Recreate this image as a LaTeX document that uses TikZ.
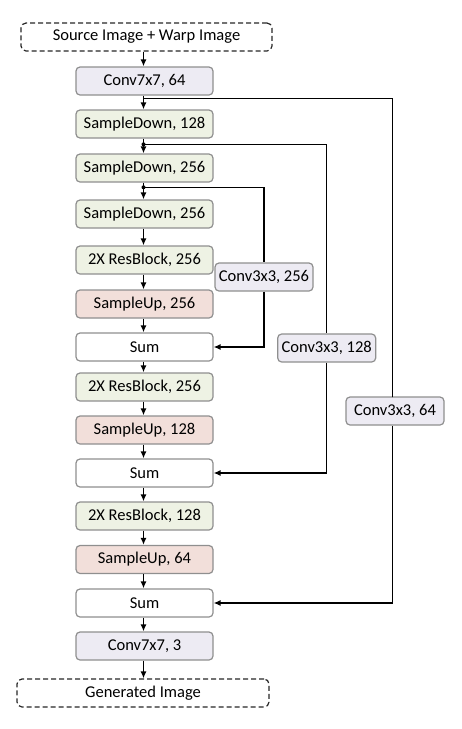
\documentclass[tikz,border=0pt]{standalone}
\usepackage{fontspec}
\setmainfont{Carlito}
\usetikzlibrary{arrows.meta}
\definecolor{lav}{HTML}{EDEBF3}
\definecolor{grn}{HTML}{EEF2E4}
\definecolor{pnk}{HTML}{F2DFDA}
\definecolor{bord}{HTML}{8F8F8F}
\begin{document}
\begin{tikzpicture}[x=1pt,y=-1pt,
  every node/.style={font=\fontsize{16.5}{20}\selectfont, text=black},
  blk/.style={draw=bord, line width=1.2pt, rounded corners=4pt, minimum width=137pt, minimum height=28pt, inner sep=0pt},
  lavbox/.style={blk, fill=lav},
  grnbox/.style={blk, fill=grn},
  pnkbox/.style={blk, fill=pnk},
  sumbox/.style={blk, fill=white},
  sidebox/.style={draw=bord, line width=1.2pt, rounded corners=4pt, fill=lav, minimum width=98pt, minimum height=28pt, inner sep=0pt},
  iobox/.style={draw=black!85, dash pattern=on 5pt off 3pt, line width=1.2pt, rounded corners=5pt, minimum width=251pt, minimum height=28pt, inner sep=0pt},
  arr/.style={-{Latex[length=7pt,width=6pt]}, line width=1.3pt, black},
  ln/.style={line width=1.3pt, black},
  dot/.style={circle, fill=black, inner sep=0pt, minimum size=4pt}
]
\useasboundingbox (0,0) rectangle (462,729);
\node[iobox] (src) at (146.5,37) {Source Image + Warp Image};
\node[lavbox] (c7a) at (144.5,81) {Conv7x7, 64};
\node[grnbox] (sd1) at (144.5,124) {SampleDown, 128};
\node[grnbox] (sd2) at (144.5,168) {SampleDown, 256};
\node[grnbox] (sd3) at (144.5,214) {SampleDown, 256};
\node[grnbox] (rb1) at (144.5,260) {2X ResBlock, 256};
\node[pnkbox] (su1) at (144.5,304) {SampleUp, 256};
\node[sumbox] (s1) at (144.5,347) {Sum};
\node[grnbox] (rb2) at (144.5,387) {2X ResBlock, 256};
\node[pnkbox] (su2) at (144.5,430) {SampleUp, 128};
\node[sumbox] (s2) at (144.5,473) {Sum};
\node[grnbox] (rb3) at (144.5,516) {2X ResBlock, 128};
\node[pnkbox] (su3) at (144.5,559.5) {SampleUp, 64};
\node[sumbox] (s3) at (144.5,603) {Sum};
\node[lavbox] (c7b) at (144.5,646) {Conv7x7, 3};
\node[iobox, minimum width=252pt] (gen) at (143,693) {Generated Image};
\node[sidebox] (k256) at (264,277) {Conv3x3, 256};
\node[sidebox] (k128) at (326.7,348) {Conv3x3, 128};
\node[sidebox] (k64) at (395,411) {Conv3x3, 64};
% main chain
\foreach \a/\b in {src/c7a,c7a/sd1,sd1/sd2,sd2/sd3,sd3/rb1,rb1/su1,su1/s1,s1/rb2,rb2/su2,su2/s2,s2/rb3,rb3/su3,su3/s3,s3/c7b,c7b/gen}
  \draw[arr] (\a.south -| 143.5,0) -- (\b.north -| 143.5,0);
% junctions
\coordinate (j1) at (143.5,98.7);
\coordinate (j2) at (143.5,144.3);
\coordinate (j3) at (143.5,187.3);
\node[dot] at (j2) {};
\node[dot] at (j3) {};
% skip connections
\draw[ln] (j3) -| (k256.north);
\draw[arr] (k256.south) |- (s1.east);
\draw[ln] (j2) -| (k128.north);
\draw[arr] (k128.south) |- (s2.east);
\draw[ln] (j1) -| (392.3,397) coordinate (t64) -- (t64 |- k64.north);
\draw[arr] (k64.south -| 392.3,0) |- (s3.east);
\end{tikzpicture}
\end{document}
